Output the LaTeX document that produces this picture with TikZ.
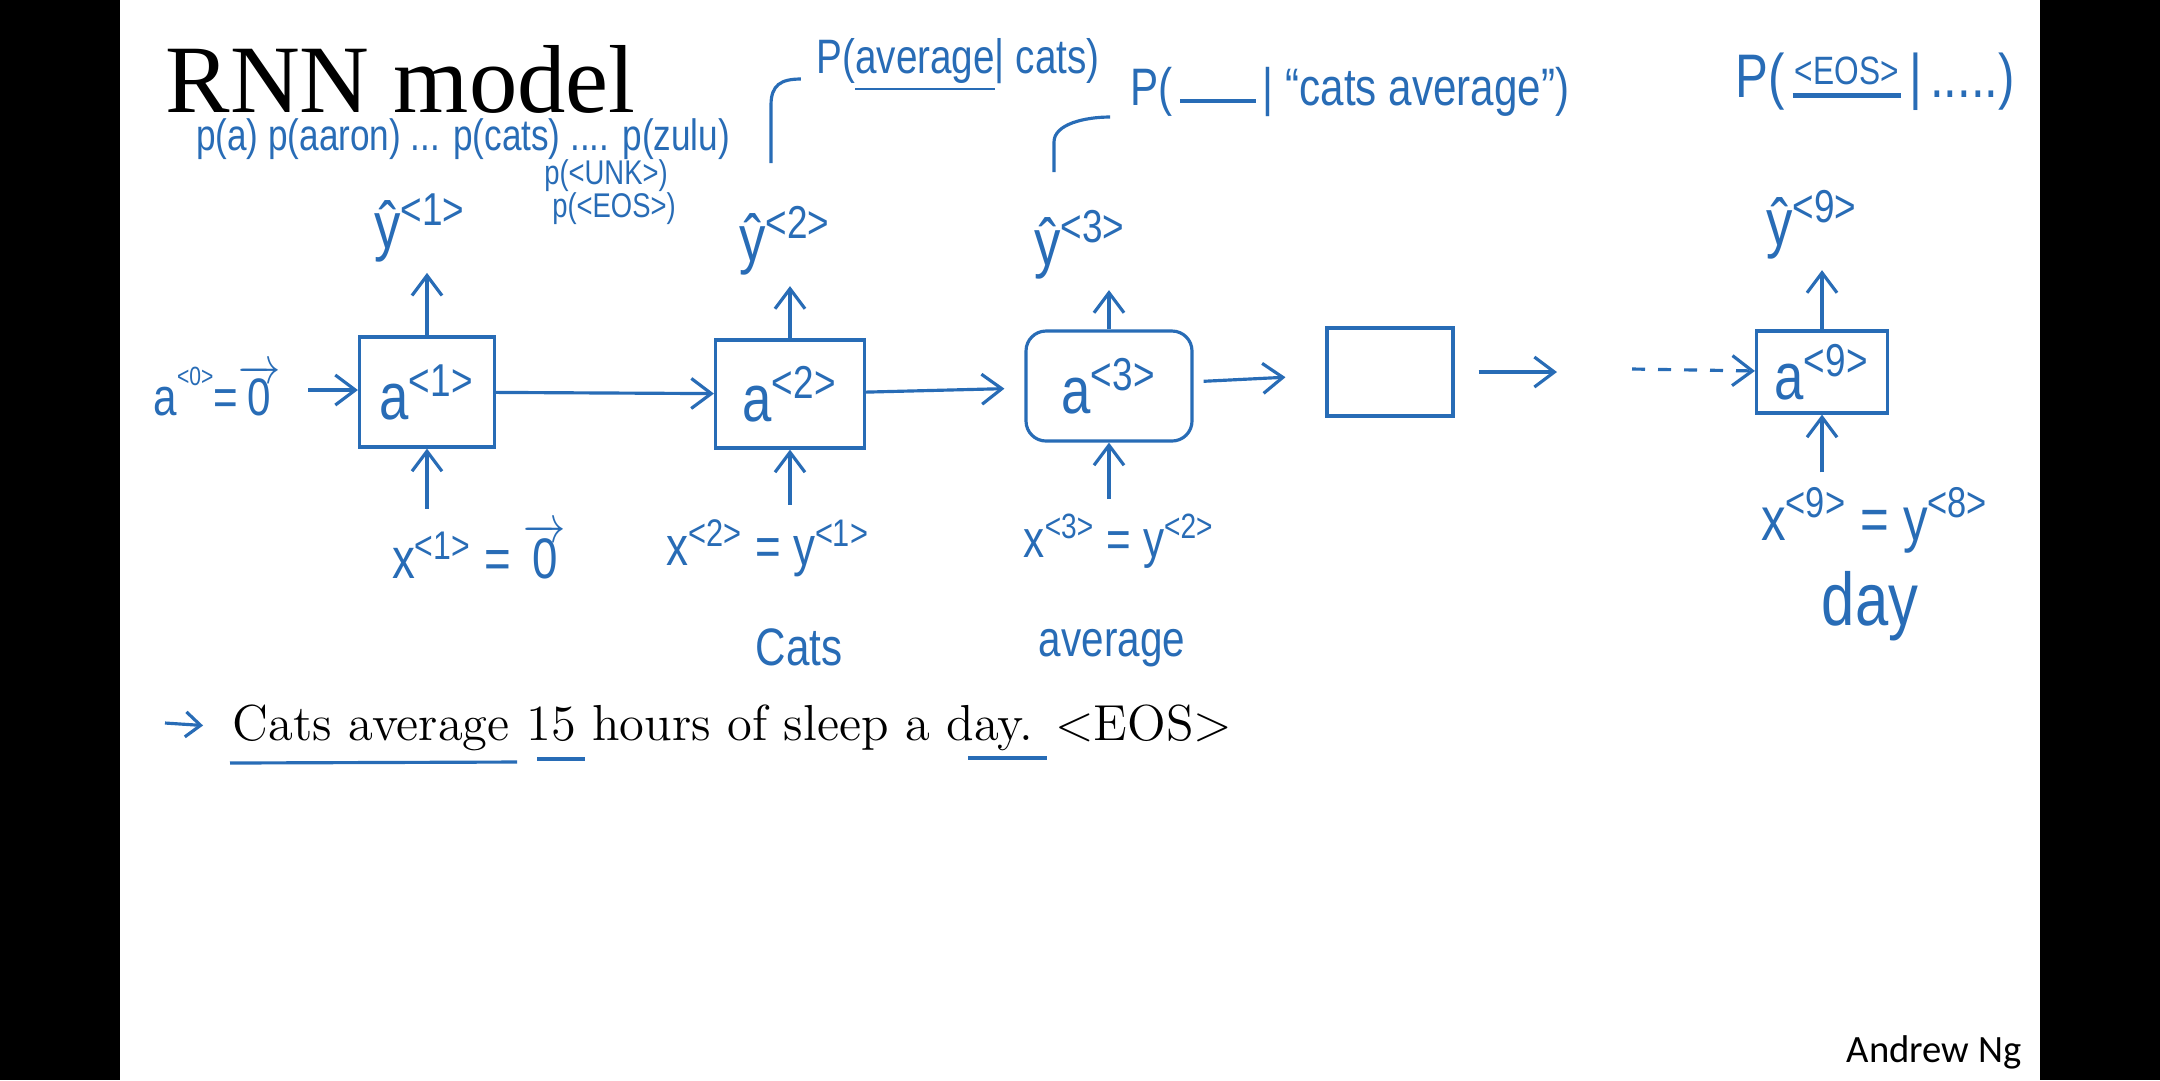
\documentclass[tikz,border=0pt]{standalone}
\usepackage{fontspec}
\usepackage{graphicx}
\usepackage{xcolor}
\usepackage{tikz}
\usetikzlibrary{arrows.meta,positioning,calc}

\newfontfamily\handfont{Liberation Sans}
\newfontfamily\titlefont{Liberation Serif}
\newfontfamily\signfont{Carlito}
\definecolor{ink}{RGB}{40,108,182}
\newcommand{\hw}[1]{\scalebox{1}[1.25]{#1}}
\newcommand{\tsup}[1]{\textsuperscript{#1}}
\newcommand{\zerovec}{\ensuremath{\overrightarrow{\mbox{0}}}}

\begin{document}
\begin{tikzpicture}[x=0.1mm, y=-0.1mm,
    pen/.style={draw=ink, line width=0.9pt},
    arr/.style={pen, -{Straight Barb[length=2mm,width=3mm]}},
    hand/.style={text=ink, inner sep=0pt, font=\handfont\fontsize{#1}{#1}\selectfont},
    cell/.style={pen, inner sep=0pt, text=ink, font=\handfont\fontsize{15}{18}\selectfont}]
    \useasboundingbox (0,0) rectangle (2160,1080);
    \fill[white] (120,0) rectangle (2040,1080);
    \fill[black] (0,0) rectangle (120,1080);
    \fill[black] (2040,0) rectangle (2160,1080);

    % slide text
    \node[anchor=base west, inner sep=0pt, font=\titlefont\fontsize{27.5}{33}\selectfont] (title) at (165,112) {RNN model};
    \node[anchor=base west, inner sep=0pt, font=\fontsize{14.4}{17}\selectfont] (sent) at (232,740) {Cats average 15 hours of sleep a day. <EOS>};
    \node[anchor=base east, inner sep=0pt, font=\signfont\fontsize{11}{13}\selectfont] (sign) at (2022,1062) {Andrew Ng};

    % cells
    \node[cell, minimum width=13.5mm, minimum height=11mm] (a1) at (427,392) {\hw{a\tsup{<1>}}};
    \node[cell, minimum width=14.9mm, minimum height=10.8mm] (a2) at (790,394) {\hw{a\tsup{<2>}}};
    \node[cell, minimum width=16.6mm, minimum height=11mm, rounded corners=2mm] (a3) at (1109,386) {\hw{a\tsup{<3>}}};
    \node[cell, minimum width=12.6mm, minimum height=8.8mm] (a4) at (1390,372) {};
    \node[cell, minimum width=13.1mm, minimum height=8.2mm] (a5) at (1822,372) {\hw{a\tsup{<9>}}};

    % outputs
    \node[hand=15] (yh1) at (420,228) {\hw{ŷ\tsup{<1>}}};
    \node[hand=15] (yh2) at (785,241) {\hw{ŷ\tsup{<2>}}};
    \node[hand=15] (yh3) at (1080,245) {\hw{ŷ\tsup{<3>}}};
    \node[hand=15] (yh9) at (1812,225) {\hw{ŷ\tsup{<9>}}};

    \node[hand=10] (py) at (463,139) {\hw{p(a) p(aaron) ... p(cats) .... p(zulu)}};
    \node[hand=7.8] (punk) at (606,176) {\hw{p(<UNK>)}};
    \node[hand=7.8] (pend) at (614,209) {\hw{p(<EOS>)}};
    \node[hand=11] (pavg) at (958,65) {\hw{P(\underline{average}| cats)}};
    \node[hand=12] (pnext) at (1350,92) {\hw{P(\,\rule[0.05em]{1.8em}{0.07em}\,| “cats average”)}};
    \node[hand=14] (peos) at (1875,82) {\hw{P(\,\shortstack{\fontsize{9}{9}\selectfont <EOS>\\[-1pt]\rule{2.2em}{0.07em}}\,|\,.....)}};

    % inputs
    \node[hand=12] (a0) at (217,390) {\hw{a\raisebox{1.1ex}{\fontsize{6}{6}\selectfont<0>}=\zerovec}};
    \node[hand=13] (x1) at (479,551) {\hw{x\tsup{<1>} = \zerovec}};
    \node[hand=12.5] (x2) at (768,548) {\hw{x\tsup{<2>} = y\tsup{<1>}}};
    \node[hand=12] (x3) at (1119,541) {\hw{x\tsup{<3>} = y\tsup{<2>}}};
    \node[hand=14] (x9) at (1875,520) {\hw{x\tsup{<9>} = y\tsup{<8>}}};
    \node[hand=12] (wcats) at (799,647) {\hw{Cats}};
    \node[hand=11.5] (wavg) at (1112,648) {\hw{average}};
    \node[hand=17] (wday) at (1870,606) {\hw{day}};

    \coordinate (next) at (1557,372);
    \coordinate (dots) at (1632,369);
    \coordinate (foot2) at (771,163);
    \coordinate (foot3) at (1054,172);
    \coordinate (cue) at (165,723);

    % connections
    \draw[arr, shorten <=2.7mm] (a0.east) -- (a0.east -| a1.west);
    \draw[arr] (a1) -- (a2);
    \draw[arr, shorten >=2mm] (a2) -- (a3);
    \draw[arr, shorten <=1mm, shorten >=4mm] (a3) -- (a4);
    \draw[arr, shorten <=2.4mm] (a4) -- (next);
    \draw[arr, dash pattern=on 1.3mm off 1.3mm] (dots) -- (a5);
    \foreach \c/\y in {a1/yh1, a2/yh2, a3/yh3, a5/yh9}
        \draw[arr, shorten >=1mm] (\c.north) -- (\c.north |- \y.south);
    \foreach \c/\x in {a1/x1, a2/x2, a3/x3, a5/x9}
        \draw[arr, shorten <=1.4mm] (\c.south |- \x.north) -- (\c.south);
    \draw[pen] (foot2) -- ++(0,-58) .. controls +(0,-20) and +(-20,0) .. ([xshift=-1.5mm, yshift=-1.4mm]pavg.west);
    \draw[pen] (foot3) -- ++(0,-30) .. controls +(0,-18) and +(-25,0) .. ([xshift=-2mm, yshift=-2.5mm]pnext.west);
    \draw[arr, -{Straight Barb[length=1.5mm,width=2.5mm]}, shorten >=2.9mm] (cue) -- (sent.west);

    % underlines
    \draw[pen] (230,763) -- (517,762);
    \draw[pen] (537,759) -- (585,759);
    \draw[pen] (968,758) -- (1047,758);
\end{tikzpicture}
\end{document}
